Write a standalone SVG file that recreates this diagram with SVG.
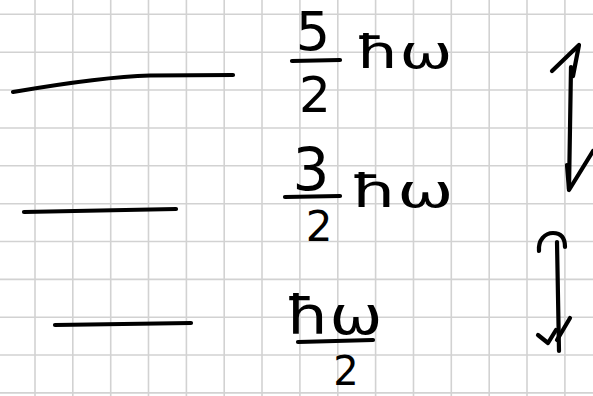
<svg xmlns="http://www.w3.org/2000/svg" width="593" height="396" viewBox="0 0 593 396">
<style>
.grid line{stroke:#d2d2d2;stroke-width:1.6}
.ink{fill:none;stroke:#000;stroke-width:4.2;stroke-linecap:round;stroke-linejoin:round}
.t{font-family:"DejaVu Sans",sans-serif;fill:#000;text-anchor:middle}
</style>
<rect width="593" height="396" fill="#fff"/>
<g class="grid">
<line x1="35" y1="0" x2="35" y2="396"/><line x1="72.8" y1="0" x2="72.8" y2="396"/><line x1="110.7" y1="0" x2="110.7" y2="396"/><line x1="148.5" y1="0" x2="148.5" y2="396"/><line x1="186.4" y1="0" x2="186.4" y2="396"/><line x1="224.2" y1="0" x2="224.2" y2="396"/><line x1="262" y1="0" x2="262" y2="396"/><line x1="299.9" y1="0" x2="299.9" y2="396"/><line x1="337.8" y1="0" x2="337.8" y2="396"/><line x1="375.6" y1="0" x2="375.6" y2="396"/><line x1="413.5" y1="0" x2="413.5" y2="396"/><line x1="451.3" y1="0" x2="451.3" y2="396"/><line x1="489.2" y1="0" x2="489.2" y2="396"/><line x1="527" y1="0" x2="527" y2="396"/><line x1="564.9" y1="0" x2="564.9" y2="396"/>
<line x1="0" y1="14.3" x2="593" y2="14.3"/><line x1="0" y1="52.2" x2="593" y2="52.2"/><line x1="0" y1="90" x2="593" y2="90"/><line x1="0" y1="128" x2="593" y2="128"/><line x1="0" y1="165.8" x2="593" y2="165.8"/><line x1="0" y1="203.7" x2="593" y2="203.7"/><line x1="0" y1="241.5" x2="593" y2="241.5"/><line x1="0" y1="279.4" x2="593" y2="279.4"/><line x1="0" y1="317.2" x2="593" y2="317.2"/><line x1="0" y1="355" x2="593" y2="355"/><line x1="0" y1="392.9" x2="593" y2="392.9"/>
</g>
<g id="level-5-2">
<path class="ink" d="M13 92 C60 84 110 76.5 150 75.5 L233 75"/>
<text class="t" x="313" y="50" font-size="54">5</text>
<path class="ink" d="M292 61 L340 60"/>
<text class="t" x="315" y="112" font-size="50">2</text>
<text class="t" x="404" y="68" font-size="46" textLength="97" lengthAdjust="spacingAndGlyphs">ħω</text>
</g>
<g id="level-3-2">
<path class="ink" d="M24 212 L176 209"/>
<text class="t" x="311" y="190" font-size="58">3</text>
<path class="ink" d="M285 197 L340 196"/>
<text class="t" x="319" y="241" font-size="42">2</text>
<text class="t" x="402" y="207" font-size="46" textLength="103" lengthAdjust="spacingAndGlyphs">ħω</text>
</g>
<g id="level-1-2">
<path class="ink" d="M55 325 L191 323"/>
<text class="t" x="334" y="334" font-size="54" textLength="97" lengthAdjust="spacingAndGlyphs">ħω</text>
<path class="ink" d="M298 342 L373 340"/>
<text class="t" x="346" y="385" font-size="40">2</text>
</g>
<g id="connectors">
<path class="ink" d="M552 71 L579 45 L573 76"/>
<path class="ink" d="M571 67 L569 189"/>
<path class="ink" d="M593 151 L569 190 L567 165"/>
<path class="ink" d="M539 251 C538 240 545 233 553 233 C561 233 565 238 565 247"/>
<path class="ink" d="M557 242 L559 351"/>
<path class="ink" d="M538 335 L548 343 L556 330"/>
<path class="ink" d="M570 318 L557 340"/>
</g>
</svg>
